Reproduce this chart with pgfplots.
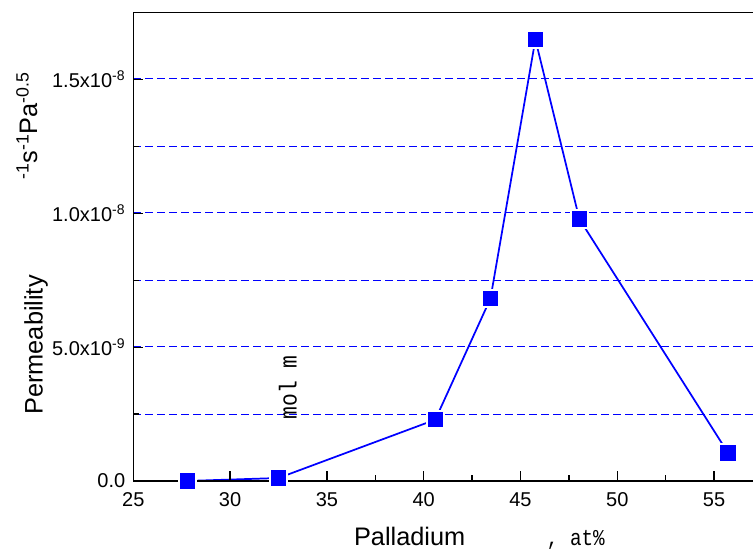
\documentclass[border=0pt]{standalone}
\usepackage{pgfplots}
\pgfplotsset{compat=1.18}
\usepackage{fontspec}
\setmainfont{Liberation Sans}
\newfontfamily\monofont{Liberation Mono}
\definecolor{gridblue}{RGB}{0,0,255}
\begin{document}
\begin{tikzpicture}
\useasboundingbox (-100pt,-54pt) rectangle (464.8pt,360.75pt);
\clip (-100pt,-54pt) rectangle (464.8pt,360.75pt);
\begin{axis}[
  at={(0pt,0pt)}, anchor=south west,
  scale only axis, width=471.9pt, height=351.2pt,
  xmin=25, xmax=57.5, ymin=0, ymax=1.75e-8,
  xtick={25,30,...,55}, minor x tick num=1,
  ytick={0,5e-9,1e-8,1.5e-8},
  yticklabels={0.0,{5.0x10\textsuperscript{-9}},{1.0x10\textsuperscript{-8}},{1.5x10\textsuperscript{-8}}},
  minor ytick={2.5e-9,7.5e-9,1.25e-8},
  scaled y ticks=false,
  /pgf/number format/assume math mode=true,
  tick label style={font=\fontsize{15}{18}\selectfont},
  xticklabel style={yshift=-5.5pt},
  yticklabel style={xshift=-2.5pt},
  xtick pos=left, ytick pos=left,
  tick align=inside,
  major tick length=7.5pt, minor tick length=4.5pt,
  tick style={line width=1pt, black},
  axis line style={line width=1.1pt},
  axis on top,
]
\pgfplotsinvokeforeach{2.5e-9,5.03e-9,7.5e-9,1.003e-8,1.25e-8,1.503e-8}{
  \draw[gridblue, dash pattern=on 6pt off 3pt, line width=0.75pt]
    (axis cs:25,#1) -- (axis cs:57.5,#1);
}
\addplot[blue, line width=1.3pt, mark=square*, mark size=6.6pt,
  mark options={solid, fill=blue, draw=white, line width=1.5pt}]
  coordinates {
  (27.8,0) (32.5,1.1e-10) (40.6,2.29e-9) (43.45,6.82e-9)
  (45.77,1.65e-8) (48.04,9.79e-9) (55.72,1.05e-9)
  };
\end{axis}
\node[rotate=90, anchor=base, font=\fontsize{19}{22}\selectfont] at (-68pt,102pt) {Permeability};
\node[rotate=90, anchor=base, font=\fontsize{19}{22}\selectfont] at (-72.2pt,266.25pt) {\textsuperscript{-1}s\textsuperscript{-1}Pa\textsuperscript{-0.5}};
\node[anchor=base, font=\fontsize{19}{22}\selectfont] at (207.3pt,-48.75pt) {Palladium};
\node[anchor=base, font=\monofont\fontsize{17}{20}\selectfont] at (331.9pt,-48.75pt) {\scalebox{0.85}[1]{, at\%}};
\node[rotate=90, anchor=base, font=\monofont\fontsize{16}{19}\selectfont] at (122.5pt,70.1pt) {\scalebox{1}[1.15]{mol m}};
\end{tikzpicture}
\end{document}
